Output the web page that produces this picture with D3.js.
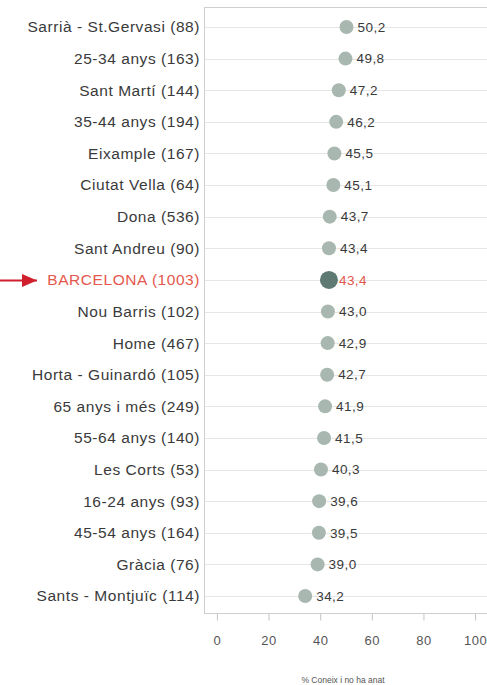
<!DOCTYPE html>
<html>
<head>
<meta charset="utf-8">
<script src="https://cdn.jsdelivr.net/npm/d3@7"></script>
<style>
  body { margin: 0; background: #fff; }
  svg { display: block; font-family: "Liberation Sans", Arial, sans-serif; }
</style>
</head>
<body>
<div id="chart"></div>
<script>
  // data
  let categories = ["Sarrià - St.Gervasi (88)", "25-34 anys (163)", "Sant Martí (144)", "35-44 anys (194)",
    "Eixample (167)", "Ciutat Vella (64)", "Dona (536)", "Sant Andreu (90)", "BARCELONA (1003)",
    "Nou Barris (102)", "Home (467)", "Horta - Guinardó (105)", "65 anys i més (249)", "55-64 anys (140)",
    "Les Corts (53)", "16-24 anys (93)", "45-54 anys (164)", "Gràcia (76)", "Sants - Montjuïc (114)"];
  let values = [50.2, 49.8, 47.2, 46.2, 45.5, 45.1, 43.7, 43.4, 43.4, 43.0, 42.9, 42.7, 41.9, 41.5, 40.3, 39.6, 39.5, 39.0, 34.2];
  let highlight = "BARCELONA (1003)";
  let xTicks = [0, 20, 40, 60, 80, 100];
  let xTitle = "% Coneix i no ha anat";

  let width = 487, height = 685;
  let plotTop = 7, plotBottom = 613;

  let svg = d3.select("#chart").append("svg")
    .attr("width", width)
    .attr("height", height);

  // scales
  let x = d3.scaleLinear().domain([-5, 105]).range([204, 488]);
  let y = d3.scalePoint().domain(categories).range([27, 596]);

  let fmt = d => d.toFixed(1).replace(".", ",");

  // frame
  svg.append("rect")
    .attr("x", x(-5) + 0.5)
    .attr("y", plotTop + 0.5)
    .attr("width", x(105) - x(-5))
    .attr("height", plotBottom - plotTop)
    .attr("fill", "none")
    .attr("stroke", "#cfcfcf");

  // gridlines
  svg.selectAll(".grid")
    .data(categories)
    .enter().append("line")
    .attr("class", "grid")
    .attr("x1", x(-5) + 1)
    .attr("x2", x(105))
    .attr("y1", d => Math.round(y(d)) + 0.5)
    .attr("y2", d => Math.round(y(d)) + 0.5)
    .attr("stroke", "#e6e6e6");

  // category labels
  svg.selectAll(".cat")
    .data(categories)
    .enter().append("text")
    .attr("class", "cat")
    .attr("x", 200)
    .attr("y", d => y(d))
    .attr("dy", "0.35em")
    .attr("text-anchor", "end")
    .style("font-size", "15.5px")
    .style("letter-spacing", "0.55px")
    .style("fill", d => d === highlight ? "#e4574c" : "#3a3a3a")
    .text(d => d);

  // dots
  svg.selectAll(".dot")
    .data(categories)
    .enter().append("circle")
    .attr("class", "dot")
    .attr("cx", (d, i) => x(values[i]))
    .attr("cy", d => y(d))
    .attr("r", d => d === highlight ? 9 : 7)
    .attr("fill", d => d === highlight ? "#5f7a72" : "#a8b8b0");

  // value labels
  svg.selectAll(".val")
    .data(categories)
    .enter().append("text")
    .attr("class", "val")
    .attr("x", (d, i) => x(values[i]) + (d === highlight ? 10 : 11))
    .attr("y", d => y(d))
    .attr("dy", "0.35em")
    .style("font-size", "13.5px")
    .style("letter-spacing", "0.45px")
    .style("fill", d => d === highlight ? "#e4574c" : "#3a3a3a")
    .text((d, i) => fmt(values[i]));

  // x axis
  let axis = svg.append("g")
    .attr("transform", "translate(0," + (plotBottom + 0.5) + ")")
    .call(d3.axisBottom(x).tickValues(xTicks).tickSize(7).tickPadding(15).tickSizeOuter(0));
  axis.select(".domain").remove();
  axis.selectAll(".tick line").attr("stroke", "#c4c4c4");
  axis.selectAll(".tick text")
    .style("font-size", "13px")
    .style("letter-spacing", "0.5px")
    .style("fill", "#555")
    .style("font-family", "'Liberation Sans', Arial, sans-serif");

  // axis title
  svg.append("text")
    .attr("x", 343)
    .attr("y", 680)
    .attr("dy", "0.35em")
    .attr("text-anchor", "middle")
    .style("font-size", "8.5px")
    .style("fill", "#555")
    .text(xTitle);

  // arrow pointing at the city total
  let ay = Math.round(y(highlight)) + 0.5;
  svg.append("defs").append("marker")
    .attr("id", "arrow")
    .attr("markerUnits", "userSpaceOnUse")
    .attr("viewBox", "0 0 15 13")
    .attr("refX", 15).attr("refY", 6.5)
    .attr("markerWidth", 15).attr("markerHeight", 13)
    .attr("orient", "auto")
    .append("path")
    .attr("d", "M0,0L15,6.5L0,13z")
    .attr("fill", "#d0202e");
  svg.append("line")
    .attr("x1", 0).attr("x2", 37)
    .attr("y1", ay).attr("y2", ay)
    .attr("stroke", "#d0202e")
    .attr("stroke-width", 2)
    .attr("marker-end", "url(#arrow)");
</script>
</body>
</html>
